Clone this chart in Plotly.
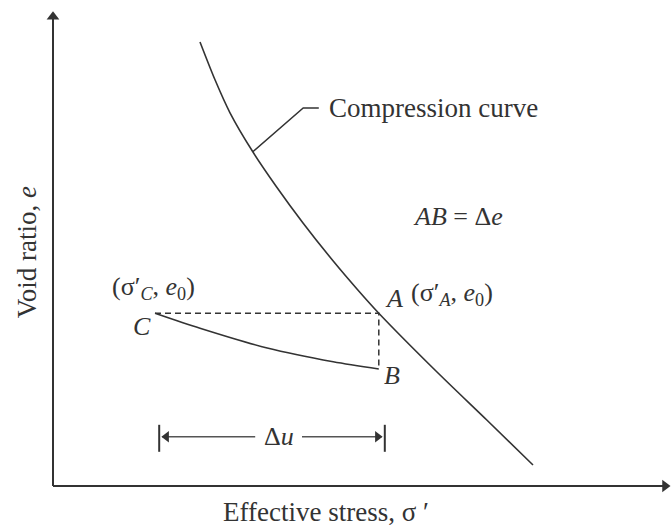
import plotly.graph_objects as go

# Effective stress (arbitrary units) and void ratio along the virgin compression curve
stress_comp = [2.45, 2.70, 2.95, 3.33, 3.73, 4.17, 4.67, 5.07, 5.43, 6.40, 7.23, 8.00]
void_comp = [7.40, 6.77, 6.22, 5.57, 4.98, 4.38, 3.75, 3.28, 2.88, 1.90, 1.10, 0.35]

# Path from C down to B
stress_path = [1.70, 2.45, 3.57, 4.67, 5.43]
void_path = [2.88, 2.63, 2.30, 2.07, 1.95]

# Key states
e0 = 2.88
sigma_C = 1.70
sigma_A = 5.43
e_B = 1.95

# Excess pore pressure dimension (ends and level)
du_left, du_right = 1.77, 5.53
du_level = 0.82
du_tick = [0.57, 1.02]

# Axis extents
x_max, y_max = 10.28, 7.90

INK = "#333333"
FONT = "Liberation Serif"
FS = 27
FS_PT = 26

fig = go.Figure()


def line(xs, ys, width=1.6, color=INK, **kw):
    fig.add_trace(go.Scatter(x=xs, y=ys, mode="lines", hoverinfo="skip",
                             line=dict(color=color, width=width, **kw)))


def head(x, y, symbol, color=INK, size=11):
    fig.add_trace(go.Scatter(x=[x], y=[y], mode="markers", hoverinfo="skip",
                             marker=dict(symbol=symbol, size=size, color=color,
                                         line=dict(width=0))))


# Axes with arrowheads
line([0, x_max - 0.08], [0, 0], width=2)
line([0, 0], [0, y_max - 0.08], width=2)
head(x_max - 0.08, 0, "triangle-right")
head(0, y_max - 0.08, "triangle-up")

# Compression curve
line(stress_comp, void_comp, shape="spline", smoothing=0.8)
# C -> B curve
line(stress_path, void_path, shape="spline", smoothing=0.8)
# Dashed C-A and A-B
line([sigma_C, sigma_A, sigma_A], [e0, e0, e_B], width=1.5, dash="6px,4px")
# Leader to the compression curve label
line([stress_comp[3], 4.17, 4.43], [void_comp[3], 6.30, 6.30], width=1.5)

# Δu dimension: end ticks, shafts and heads
du_mid = (du_left + du_right) / 2
for xv in (du_left, du_right):
    line([xv, xv], du_tick, width=2)
line([du_left + 0.05, du_mid - 0.28], [du_level, du_level], width=1.6, color="#555555")
line([du_mid + 0.50, du_right - 0.05], [du_level, du_level], width=1.6, color="#555555")
head(du_left + 0.12, du_level, "triangle-left", color="#333333", size=10)
head(du_right - 0.12, du_level, "triangle-right", color="#333333", size=10)

annotations = []


def label(x, y, text, xanchor="center", size=FS, **kw):
    annotations.append(dict(x=x, y=y, xref="x", yref="y", text=text, showarrow=False,
                            xanchor=xanchor, yanchor="middle",
                            font=dict(family=FONT, size=size, color=INK), **kw))


label(du_mid + 0.12, du_level, "Δ<i>u</i>", size=FS_PT)
label(4.57, 6.30, "Compression curve", xanchor="left")
label(6.75, 4.50, "<i>AB</i> = Δ<i>e</i>", size=FS_PT)
label(sigma_C - 0.03, e0 + 0.42, "(σ′<sub><i>C</i></sub>, <i>e</i><sub>0</sub>)", size=FS_PT)
label(sigma_C - 0.22, e0 - 0.22, "<i>C</i>", size=FS_PT)
label(sigma_A + 0.26, e0 + 0.25, "<i>A</i>", size=FS_PT)
label(6.65, e0 + 0.32, "(σ′<sub><i>A</i></sub>, <i>e</i><sub>0</sub>)", size=FS_PT)
label(sigma_A + 0.22, e_B - 0.10, "<i>B</i>", size=FS_PT)

# Axis titles
label(4.55, -0.43, "Effective stress, σ ′")
label(-0.43, 3.90, "Void ratio, <i>e</i>", textangle=-90)

fig.update_layout(
    width=672, height=528,
    margin=dict(l=0, r=0, t=0, b=0),
    paper_bgcolor="white", plot_bgcolor="white",
    showlegend=False,
    xaxis=dict(range=[-53 / 60, 619 / 60], visible=False, fixedrange=True),
    yaxis=dict(range=[-42 / 60, 486 / 60], visible=False, fixedrange=True),
    annotations=annotations,
)

fig.write_html("out.html")
